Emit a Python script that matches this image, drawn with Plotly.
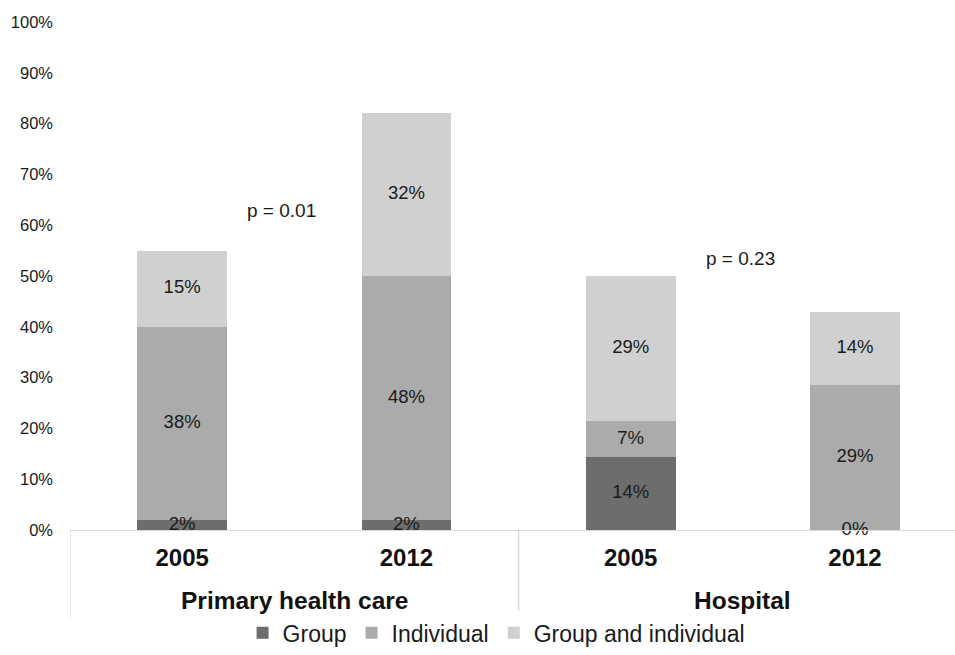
import plotly.graph_objects as go

settings = ["Primary health care", "Primary health care", "Hospital", "Hospital"]
years = ["2005", "2012", "2005", "2012"]
group = [2, 2, 14.3, 0]
individual = [38, 48, 7.1, 28.6]
group_and_individual = [15, 32, 28.6, 14.3]
series_names = ["Group", "Individual", "Group and individual"]
colors = ["#6d6d6d", "#ababab", "#d0d0d0"]
p_labels = ["p = 0.01", "p = 0.23"]
p_y = [62.8, 53.5]

series = [group, individual, group_and_individual]
pos = list(range(len(years)))
FONT = "Liberation Sans"
TXT = "#1a1a1a"

fig = go.Figure()
for name, vals, col in zip(series_names, series, colors):
    fig.add_trace(go.Bar(x=pos, y=vals, name=name, marker=dict(color=col, line=dict(width=0)),
                         width=0.4))

# labels at segment midpoints
base = [0] * len(pos)
for vals in series:
    mids = [b + v / 2 for b, v in zip(base, vals)]
    fig.add_trace(go.Scatter(x=pos, y=mids, mode="text", text=[f"{round(v):.0f}%" for v in vals],
                             textfont=dict(family=FONT, size=18.5, color=TXT),
                             showlegend=False, hoverinfo="skip", cliponaxis=False))
    base = [b + v for b, v in zip(base, vals)]

for lab, px, py in zip(p_labels, [0.2395, 0.758], p_y):
    fig.add_annotation(text=lab, xref="paper", yref="y", x=px, y=py, showarrow=False,
                       xanchor="center", yanchor="middle",
                       font=dict(family=FONT, size=19, color=TXT))

# group labels and dividers
groups = []
for i, s in enumerate(settings):
    if not groups or groups[-1][0] != s:
        groups.append([s, [i]])
    else:
        groups[-1][1].append(i)
for s, idx in groups:
    fig.add_annotation(text=f"<b>{s}</b>", xref="x", yref="paper", x=sum(idx) / len(idx), y=-0.138,
                       showarrow=False, xanchor="center", yanchor="middle",
                       font=dict(family=FONT, size=24.5, color="#111111"))
    for edge in (idx[0] - 0.5, idx[-1] + 0.5):
        fig.add_shape(type="line", xref="x", yref="paper", x0=edge, x1=edge, y0=0, y1=-0.173,
                      line=dict(color="#d9d9d9", width=1.2))

fig.update_layout(
    barmode="stack",
    width=955, height=655,
    margin=dict(l=70, r=0, t=22, b=125),
    paper_bgcolor="white", plot_bgcolor="white",
    font=dict(family=FONT, color=TXT),
    legend=dict(orientation="h", xref="container", yref="container", x=0.52, y=0.034,
                xanchor="center", yanchor="middle", font=dict(family=FONT, size=23, color=TXT),
                itemwidth=30, traceorder="normal"),
    xaxis=dict(range=[-0.5, 3.446], showline=True, linecolor="#d9d9d9", linewidth=1.2,
               tickmode="array", tickvals=pos, ticktext=[f"<b>{y}</b>" for y in years],
               tickfont=dict(family=FONT, size=24, color="#111111"),
               ticks="", showgrid=False, zeroline=False, ticklabelstandoff=6),
    yaxis=dict(range=[0, 100], dtick=10, ticksuffix="%", showgrid=False, zeroline=False,
               showline=False, tickfont=dict(family=FONT, size=16.5, color=TXT),
               ticklabelstandoff=16),
)

fig.write_html("out.html")
